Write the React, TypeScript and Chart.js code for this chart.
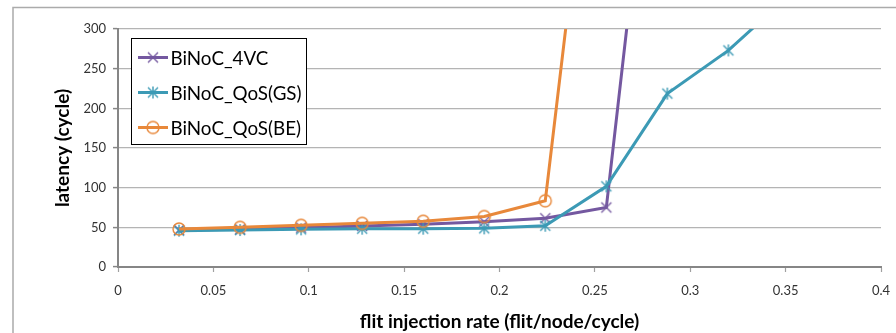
import React, { useEffect, useRef } from "react";
import { Chart, registerables } from "chart.js";

Chart.register(...registerables);

const xRates = [0.032, 0.064, 0.096, 0.128, 0.16, 0.192, 0.224, 0.256, 0.288, 0.32, 0.352];
const seriesLabels = ["BiNoC_4VC", "BiNoC_QoS(GS)", "BiNoC_QoS(BE)"];
const vc4 = [46.6, 47.5, 49.6, 51.7, 54, 57, 61.4, 75, 750];
const qosGS = [45.8, 46.6, 47.5, 48.3, 48.3, 48.7, 52, 101.7, 218.6, 273, 343];
const qosBE = [47.9, 50, 52.5, 55, 57.6, 63.6, 83.5, 732];
const yTicks = [0, 50, 100, 150, 200, 250, 300];
const xTicks = [0, 0.05, 0.1, 0.15, 0.2, 0.25, 0.3, 0.35, 0.4];

const PURPLE = "#7458A0";
const TEAL = "#3C9AB5";
const ORANGE = "#E8883A";
const FONT = "Lato, 'Liberation Sans', sans-serif";

function makeMarker(kind: string, color: string): HTMLCanvasElement {
  const c = document.createElement("canvas");
  c.width = 16;
  c.height = 16;
  const g = c.getContext("2d")!;
  g.strokeStyle = color;
  g.lineWidth = 1.4;
  g.beginPath();
  if (kind === "x" || kind === "star") {
    g.moveTo(3, 3);
    g.lineTo(13, 13);
    g.moveTo(13, 3);
    g.lineTo(3, 13);
  }
  if (kind === "star") {
    g.moveTo(8, 2);
    g.lineTo(8, 14);
  }
  if (kind === "circle") {
    g.arc(8, 8, 6, 0, Math.PI * 2);
  }
  g.stroke();
  return c;
}

export default function App() {
  const ref = useRef<HTMLCanvasElement | null>(null);

  useEffect(() => {
    document.body.style.margin = "0";
    const mPurple = makeMarker("x", PURPLE);
    const mTeal = makeMarker("star", TEAL);
    const mOrange = makeMarker("circle", ORANGE);
    const markers = [mPurple, mTeal, mOrange];
    const colors = [PURPLE, TEAL, ORANGE];
    const values = [vc4, qosGS, qosBE];

    const framePlugin = {
      id: "frame",
      beforeDraw(chart: any) {
        const ctx = chart.ctx;
        ctx.save();
        ctx.fillStyle = "#ffffff";
        ctx.fillRect(0, 0, chart.width, chart.height);
        ctx.strokeStyle = "#ababab";
        ctx.lineWidth = 1.5;
        ctx.strokeRect(13, 7.5, chart.width + 20, chart.height + 20);
        ctx.restore();
      },
    };

    const legendPlugin = {
      id: "boxLegend",
      afterDraw(chart: any) {
        const ctx = chart.ctx;
        const x0 = 131.5, y0 = 38.5, w = 175, h = 106;
        ctx.save();
        ctx.fillStyle = "#ffffff";
        ctx.fillRect(x0, y0, w, h);
        ctx.strokeStyle = "#000000";
        ctx.lineWidth = 1;
        ctx.strokeRect(x0, y0, w, h);
        seriesLabels.forEach((lab, i) => {
          const cy = 57.5 + i * 35;
          ctx.strokeStyle = colors[i];
          ctx.lineWidth = 3;
          ctx.beginPath();
          ctx.moveTo(138, cy);
          ctx.lineTo(168, cy);
          ctx.stroke();
          ctx.drawImage(markers[i], 153 - 8, cy - 8);
          ctx.fillStyle = "#000000";
          ctx.font = `18.8px ${FONT}`;
          ctx.textBaseline = "middle";
          ctx.textAlign = "left";
          ctx.fillText(lab, 170.5, cy + 1);
        });
        ctx.restore();
      },
    };

    const datasets = seriesLabels.map((lab, i) => ({
      label: lab,
      data: values[i].map((v, k) => ({ x: xRates[k], y: v })),
      borderColor: colors[i],
      backgroundColor: colors[i],
      borderWidth: 3,
      pointStyle: markers[i],
      pointRadius: 6,
      pointHoverRadius: 6,
      tension: 0,
      order: 2 - i,
    }));

    const chart = new Chart(ref.current!, {
      type: "line",
      data: { datasets },
      plugins: [framePlugin, legendPlugin],
      options: {
        animation: false,
        responsive: false,
        events: [],
        layout: { padding: { left: 0, top: 29, right: 15, bottom: 0 } },
        plugins: { legend: { display: false }, tooltip: { enabled: false } },
        scales: {
          x: {
            type: "linear",
            min: 0,
            max: 0.4,
            afterBuildTicks: (s: any) => {
              s.ticks = xTicks.map((v) => ({ value: v }));
            },
            afterFit: (s: any) => {
              s.height = 66;
              s.paddingLeft = 0;
              s.paddingRight = 0;
            },
            ticks: {
              padding: 11,
              color: "#333333",
              font: { family: FONT, size: 13 },
              maxRotation: 0,
              autoSkip: false,
              callback: (v: any) => String(+Number(v).toFixed(2)),
            },
            grid: {
              drawOnChartArea: false,
              drawTicks: true,
              tickLength: 5,
              tickColor: "#a0a0a0",
              tickWidth: 1.2,
            },
            border: { color: "#868686", width: 2 },
            title: {
              display: true,
              text: "flit injection rate (flit/node/cycle)",
              color: "#000000",
              font: { family: FONT, size: 19, weight: "bold" },
              padding: { top: 0, bottom: 0 },
            },
          },
          y: {
            min: 0,
            max: 300,
            afterBuildTicks: (s: any) => {
              s.ticks = yTicks.map((v) => ({ value: v }));
            },
            afterFit: (s: any) => {
              s.width = 118;
              s.paddingTop = 0;
              s.paddingBottom = 0;
            },
            ticks: {
              padding: 7,
              color: "#333333",
              font: { family: FONT, size: 13 },
              autoSkip: false,
            },
            grid: {
              color: "#b4b4b4",
              lineWidth: 1.2,
              drawTicks: true,
              tickLength: 5,
              tickColor: "#868686",
              tickWidth: 1.5,
            },
            border: { color: "#868686", width: 2 },
            title: {
              display: true,
              text: "latency (cycle)",
              color: "#000000",
              font: { family: FONT, size: 19, weight: "bold" },
              padding: { top: 51, bottom: 0 },
            },
          },
        },
      },
    } as any);

    return () => chart.destroy();
  }, []);

  return (
    <div style={{ position: "absolute", left: 0, top: 0, width: 896, height: 333 }}>
      <canvas ref={ref} width={896} height={333} style={{ display: "block" }} />
    </div>
  );
}
